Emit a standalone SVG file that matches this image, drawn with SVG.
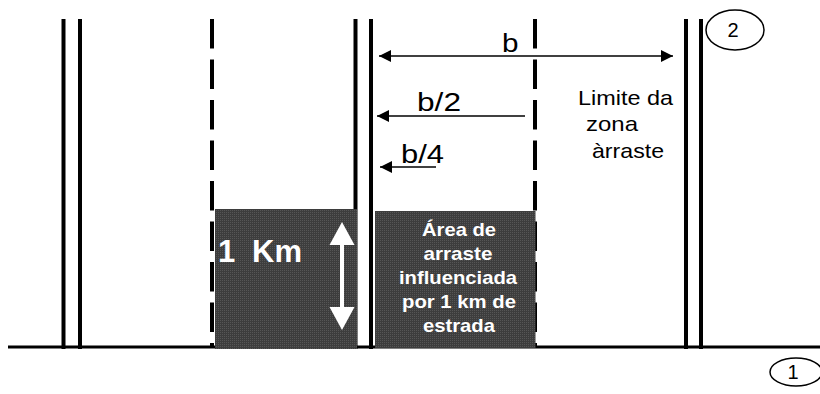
<svg xmlns="http://www.w3.org/2000/svg" width="820" height="394" viewBox="0 0 820 394">
<defs>
<style>
.road{stroke:#000;stroke-width:4;fill:none}
.dash{stroke:#000;stroke-width:4;fill:none;stroke-dasharray:29.5 11}
.ground{stroke:#000;stroke-width:3;fill:none}
.dim{stroke:#000;stroke-width:1.6;fill:none}
.lbl{font-family:"Liberation Sans",Arial,sans-serif;fill:#000}
.wt{font-family:"Liberation Sans",Arial,sans-serif;fill:#fff;font-weight:bold}
.oval{fill:#fff;stroke:#000;stroke-width:1.5}
</style>
<pattern id="dither" width="2" height="2" patternUnits="userSpaceOnUse">
<rect width="2" height="2" fill="#3d3d3d"/>
<rect width="1" height="1" fill="#565656"/>
</pattern>
<marker id="ah" viewBox="0 0 12 12" refX="12" refY="6" markerWidth="12" markerHeight="12" markerUnits="userSpaceOnUse" orient="auto-start-reverse">
<path d="M0,0 L12,6 L0,12 z" fill="#000"/>
</marker>
</defs>
<rect width="820" height="394" fill="#fff"/>

<g id="road-left">
<line class="road" x1="63.5" y1="19" x2="63.5" y2="349"/>
<line class="road" x1="80" y1="19" x2="80" y2="349"/>
</g>
<g id="road-middle">
<line class="road" x1="355.5" y1="19" x2="355.5" y2="349"/>
<line class="road" x1="371" y1="19" x2="371" y2="349"/>
</g>
<g id="road-right">
<line class="road" x1="686" y1="19" x2="686" y2="349"/>
<line class="road" x1="701" y1="19" x2="701" y2="349"/>
</g>
<g id="limit-left">
<line class="dash" x1="212" y1="19" x2="212" y2="348"/>
</g>
<g id="limit-right">
<line class="dash" x1="535" y1="19" x2="535" y2="348"/>
</g>
<g id="ground">
<line class="ground" x1="8" y1="347" x2="820" y2="347"/>
</g>

<g id="area-1km">
<rect x="215" y="209" width="142" height="140" fill="url(#dither)"/>
<text class="wt" x="218" y="262" font-size="31">1<tspan x="252">Km</tspan></text>
<rect x="340" y="240" width="4" height="72" fill="#fff"/>
<polygon points="342,222 329.5,245 354.5,245" fill="#fff"/>
<polygon points="342,330 329.5,307 354.5,307" fill="#fff"/>
</g>

<g id="area-arraste">
<rect x="375" y="211" width="160.5" height="137" fill="url(#dither)"/>
<g class="wt" font-size="19" text-anchor="middle">
<text x="459" y="236" textLength="74" lengthAdjust="spacingAndGlyphs">Área de</text>
<text x="458" y="260" textLength="69" lengthAdjust="spacingAndGlyphs">arraste</text>
<text x="458" y="284" textLength="118" lengthAdjust="spacingAndGlyphs">influenciada</text>
<text x="459" y="308" textLength="114" lengthAdjust="spacingAndGlyphs">por 1 km de</text>
<text x="459" y="332" textLength="72" lengthAdjust="spacingAndGlyphs">estrada</text>
</g>
</g>

<g id="connectors">
<line class="dim" x1="379" y1="56" x2="673" y2="56" marker-start="url(#ah)" marker-end="url(#ah)"/>
<line class="dim" x1="525" y1="116" x2="377" y2="116" marker-end="url(#ah)"/>
<line class="dim" x1="436" y1="167" x2="380" y2="167" marker-end="url(#ah)"/>
</g>

<g id="labels">
<text class="lbl" x="502" y="52" font-size="26" textLength="16.5" lengthAdjust="spacingAndGlyphs">b</text>
<text class="lbl" x="417" y="111" font-size="26" textLength="44" lengthAdjust="spacingAndGlyphs">b/2</text>
<text class="lbl" x="401" y="163" font-size="26" textLength="43" lengthAdjust="spacingAndGlyphs">b/4</text>
</g>

<g id="limit-label">
<text class="lbl" x="578" y="105" font-size="21" textLength="95" lengthAdjust="spacingAndGlyphs">Limite da</text>
<text class="lbl" x="586" y="131" font-size="21" textLength="52" lengthAdjust="spacingAndGlyphs">zona</text>
<text class="lbl" x="592" y="158" font-size="21" textLength="72" lengthAdjust="spacingAndGlyphs">àrraste</text>
</g>

<g id="marker-2">
<ellipse class="oval" cx="735" cy="30" rx="29" ry="20"/>
<text class="lbl" x="733" y="37" font-size="20" text-anchor="middle">2</text>
</g>
<g id="marker-1">
<ellipse class="oval" cx="796" cy="372" rx="26" ry="14"/>
<text class="lbl" x="793" y="379" font-size="20" text-anchor="middle">1</text>
</g>
</svg>
